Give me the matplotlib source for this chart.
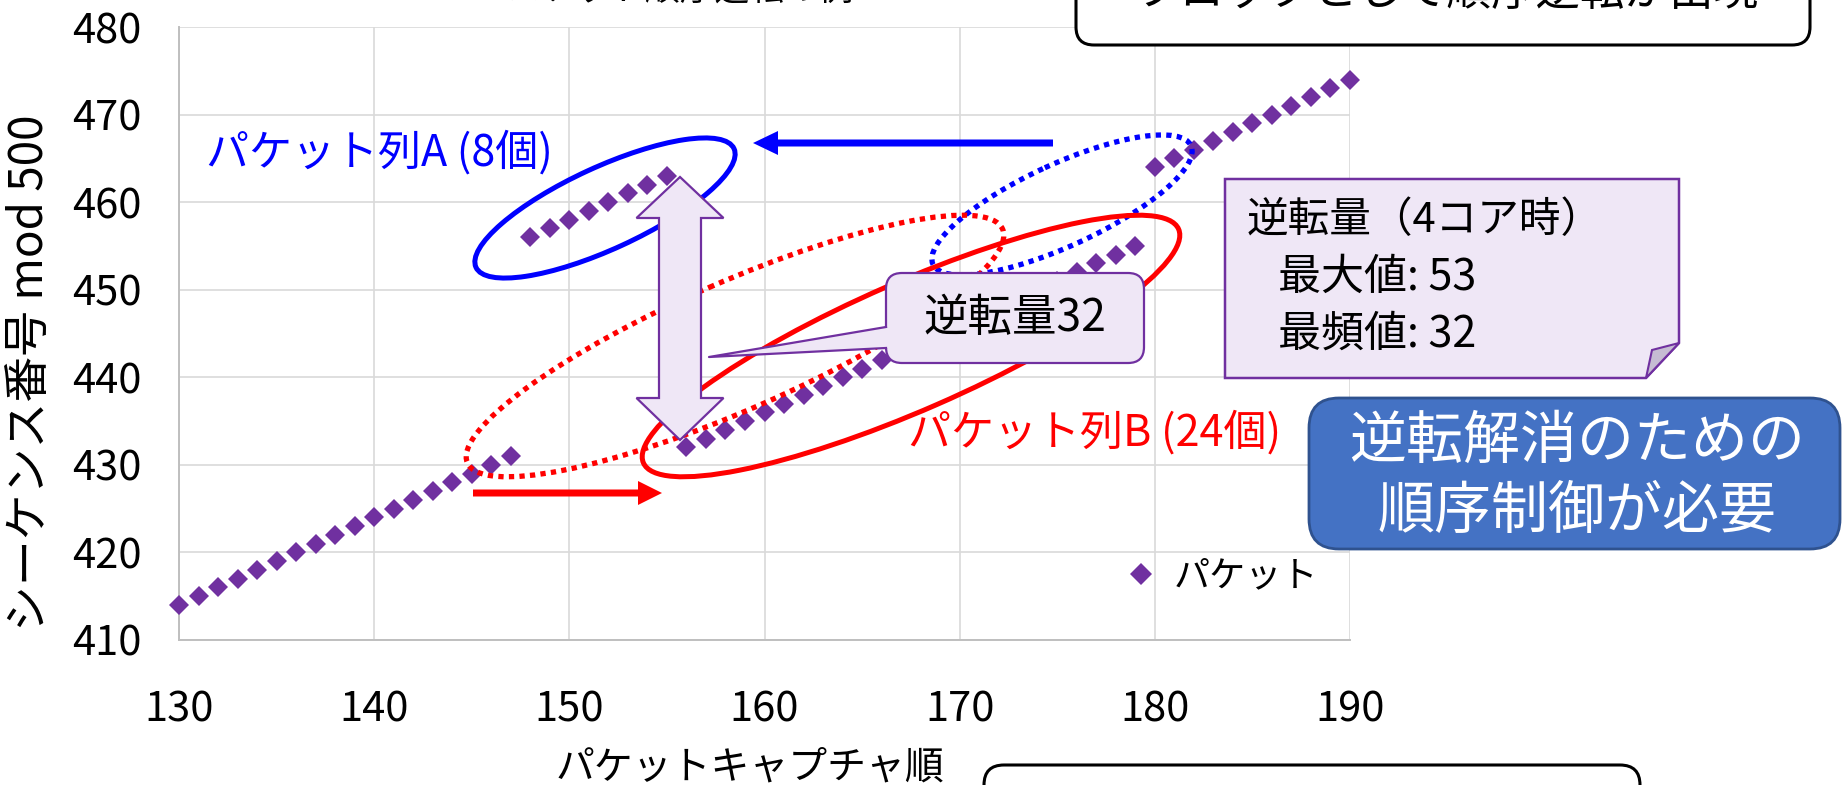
import numpy as np
import matplotlib
matplotlib.use("Agg")
import matplotlib.pyplot as plt
import matplotlib.patches as mpatches

plt.rcParams['font.family'] = ['Noto Sans CJK JP', 'DejaVu Sans']

# capture order -> sequence number mod 500
LEAD_X = list(range(130, 148));  LEAD_Y = list(range(414, 432))
A_X = list(range(148, 156));     A_Y = list(range(456, 464))      # packet run A (8)
B_X = list(range(156, 180));     B_Y = list(range(432, 456))      # packet run B (24)
TAIL_X = list(range(180, 191));  TAIL_Y = list(range(464, 475))

X_TICKS = [130, 140, 150, 160, 170, 180, 190]
Y_TICKS = [410, 420, 430, 440, 450, 460, 470, 480]

PURPLE = "#7030A0"
LAVENDER = "#EFE7F6"
W, H = 1844, 785

fig = plt.figure(figsize=(W / 100, H / 100), dpi=100)
ax = fig.add_axes([179 / W, 1 - 640 / H, (1350 - 179) / W, (640 - 27) / H])

xs = LEAD_X + A_X + B_X + TAIL_X
ys = LEAD_Y + A_Y + B_Y + TAIL_Y
ax.plot(xs, ys, ls="none", marker="D", ms=10, mew=0, color=PURPLE,
        label="パケット", clip_on=False, zorder=3)

ax.set_xlim(130, 190); ax.set_ylim(410, 480)
ax.set_xticks(X_TICKS); ax.set_yticks(Y_TICKS)
ax.grid(True, color="#D9D9D9", lw=1.2)
ax.set_axisbelow(True)
for s in ["top", "right"]:
    ax.spines[s].set_visible(False)
for s in ["left", "bottom"]:
    ax.spines[s].set_color("#BFBFBF"); ax.spines[s].set_linewidth(1.4)
ax.tick_params(axis="both", length=0, labelsize=30)
ax.tick_params(axis="y", pad=27)
ax.tick_params(axis="x", pad=36)
ax.set_xlabel("パケットキャプチャ順", fontsize=28)
ax.xaxis.set_label_coords((750 - 179) / 1171, (640 - 748) / 613)
ax.set_ylabel("シーケンス番号 mod 500", fontsize=33)
ax.yaxis.set_label_coords((55 - 179) / 1171, (640 - 373) / 613)
ax.legend(loc="center left", bbox_to_anchor=(0.806, 0.104), frameon=False,
          fontsize=26, handlelength=1.0, handletextpad=0.4, borderpad=0,
          borderaxespad=0, markerscale=1.1)

# overlay in pixel coords (y down) for the annotation shapes
ov = fig.add_axes([0, 0, 1, 1])
ov.set_xlim(0, W); ov.set_ylim(H, 0); ov.axis("off"); ov.patch.set_alpha(0)

def ell(cx, cy, w, h, ang, color, dotted=False):
    e = mpatches.Ellipse((cx, cy), w, h, angle=ang, fill=False, ec=color,
                         lw=3.8 if dotted else 3.6,
                         ls=(0, (1, 1)) if dotted else "-", clip_on=False)
    if dotted:
        e.set_capstyle("butt")
    ov.add_patch(e)

ell(605, 208, 284, 82, -24.7, "#0000FF")
ell(1062, 205, 284, 82, -24.7, "#0000FF", dotted=True)
ell(735, 346, 584, 128, -23.6, "#FF0000", dotted=True)
ell(911, 346, 584, 128, -23.6, "#FF0000")

# shift arrows
ov.add_patch(mpatches.FancyArrow(1053, 143, -300, 0, width=7, head_width=24, head_length=25,
                                 length_includes_head=True, color="#0000FF", lw=0))
ov.add_patch(mpatches.FancyArrow(473, 493, 189, 0, width=7, head_width=24, head_length=24,
                                 length_includes_head=True, color="#FF0000", lw=0))

# callout "逆転量32"
ov.add_patch(mpatches.FancyBboxPatch((886, 273), 258, 90,
                                     boxstyle="round,pad=0,rounding_size=16",
                                     fc=LAVENDER, ec=PURPLE, lw=1.6))
ov.add_patch(mpatches.Polygon([(890, 327), (709, 357), (890, 348)], closed=True,
                              fc=LAVENDER, ec="none"))
ov.plot([886, 709, 886], [327, 357, 348], color=PURPLE, lw=1.6)
ov.text(1015, 318, "逆転量32", fontsize=32, ha="center", va="center")

# double arrow
cx = 680
ov.add_patch(mpatches.Polygon([(cx, 177), (cx + 43.5, 218), (cx + 21, 218), (cx + 21, 398),
                               (cx + 43.5, 398), (cx, 440), (cx - 43.5, 398), (cx - 21, 398),
                               (cx - 21, 218), (cx - 43.5, 218)], closed=True,
                              fc=LAVENDER, ec=PURPLE, lw=1.6))

# labels of packet runs
ov.text(206, 153, "パケット列A (8個)", fontsize=31, color="#0000FF", va="center")
ov.text(908, 433, "パケット列B (24個)", fontsize=31, color="#FF0000", va="center")

# note with folded corner
ov.add_patch(mpatches.Polygon([(1225, 179), (1679, 179), (1679, 343), (1646, 378), (1225, 378)],
                              closed=True, fc=LAVENDER, ec=PURPLE, lw=1.8))
ov.add_patch(mpatches.Polygon([(1646, 378), (1652, 350), (1679, 343)], closed=True,
                              fc="#C6BCD3", ec=PURPLE, lw=1.5))
ov.text(1247, 220, "逆転量（4コア時）", fontsize=30, va="center")
ov.text(1278, 278, "最大値: 53", fontsize=31, va="center")
ov.text(1278, 335, "最頻値: 32", fontsize=31, va="center")

# blue conclusion box
ov.add_patch(mpatches.FancyBboxPatch((1309, 398), 531, 151,
                                     boxstyle="round,pad=0,rounding_size=30",
                                     fc="#4472C4", ec="#2F528F", lw=2))
ov.text(1577, 442, "逆転解消のための", fontsize=41, color="white", ha="center", va="center")
ov.text(1577, 512, "順序制御が必要", fontsize=41, color="white", ha="center", va="center")

# boxes cut off at the figure edges
ov.add_patch(mpatches.FancyBboxPatch((1076, -60), 734, 105,
                                     boxstyle="round,pad=0,rounding_size=18",
                                     fc="white", ec="black", lw=2.2, clip_on=False))
ov.text(1447, -8, "ブロックとして順序逆転が出現", fontsize=32, ha="center", va="center")
ov.add_patch(mpatches.FancyBboxPatch((984, 765), 656, 100,
                                     boxstyle="round,pad=0,rounding_size=20",
                                     fc="white", ec="black", lw=2.2, clip_on=False))
ov.text(680, 0, "パケット順序逆転の例", fontsize=25, ha="center", va="baseline")

fig.savefig("out.png", dpi=100)
